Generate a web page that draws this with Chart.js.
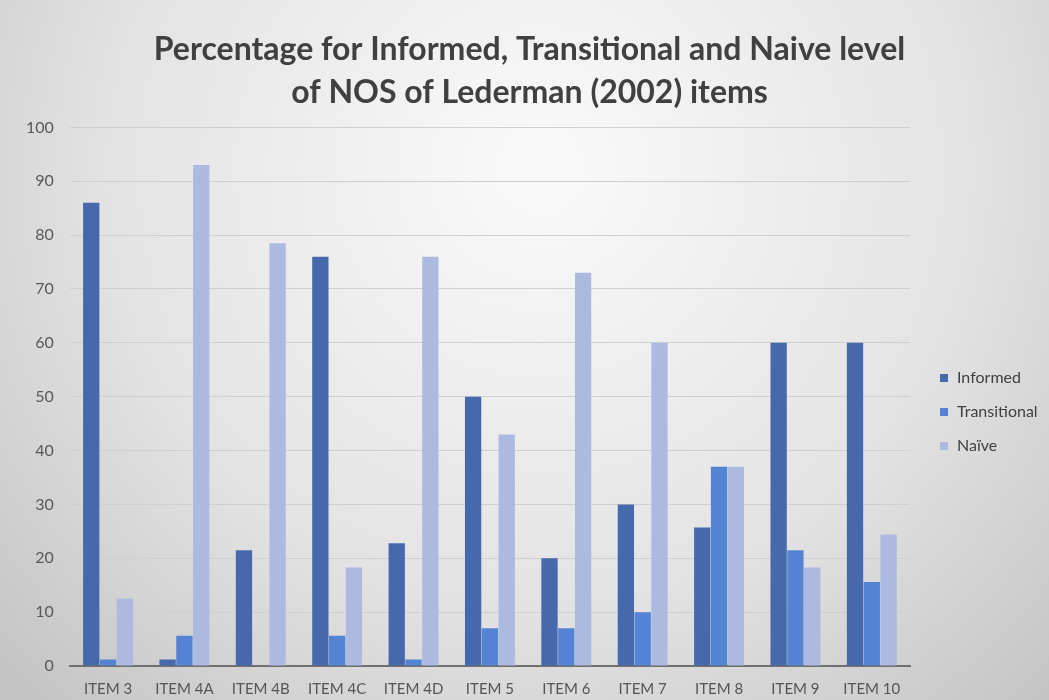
<!DOCTYPE html>
<html>
<head>
<meta charset="utf-8">
<script src="https://cdn.jsdelivr.net/npm/chart.js@4.4.1/dist/chart.umd.min.js"></script>
<style>
  html, body { margin: 0; padding: 0; background: #ffffff; }
  #wrap { width: 1049px; height: 700px; }
</style>
</head>
<body>
<div id="wrap"><canvas id="nosChart" width="1049" height="700"></canvas></div>
<script>
// data (percent)
var items = ["ITEM 3", "ITEM 4A", "ITEM 4B", "ITEM 4C", "ITEM 4D", "ITEM 5", "ITEM 6", "ITEM 7", "ITEM 8", "ITEM 9", "ITEM 10"];
var informed     = [86, 1.2, 21.5, 76, 22.8, 50, 20, 30, 25.7, 60, 60];
var transitional = [1.2, 5.6, 0, 5.6, 1.2, 7, 7, 10, 37, 21.5, 15.6];
var naive        = [12.5, 93, 78.5, 18.3, 76, 43, 73, 60, 37, 18.3, 24.4];
var seriesNames  = ["Informed", "Transitional", "Naïve"];

// grey slide-like background behind everything
var bgPlugin = {
    id: 'bgGradient',
    beforeDraw: function(chart) {
        var ctx = chart.ctx;
        var g = ctx.createRadialGradient(540, 170, 40, 540, 170, 820);
        g.addColorStop(0, '#f8f8f8');
        g.addColorStop(0.5, '#e3e3e3');
        g.addColorStop(1, '#bbbbbb');
        ctx.save();
        ctx.fillStyle = g;
        ctx.fillRect(0, 0, chart.width, chart.height);
        ctx.restore();
    }
};

// legend drawn beside the plot, from the datasets themselves
var sideLegend = {
    id: 'sideLegend',
    afterDraw: function(chart) {
        var ctx = chart.ctx;
        var x = chart.chartArea.right + 30;
        var y = 378;
        ctx.save();
        ctx.font = '16px Lato';
        ctx.textBaseline = 'middle';
        chart.data.datasets.forEach(function(ds, i) {
            ctx.fillStyle = ds.backgroundColor;
            ctx.fillRect(x, y + i * 34 - 4, 8, 8);
            ctx.fillStyle = '#404040';
            ctx.fillText(ds.label, x + 17, y + i * 34);
        });
        ctx.restore();
    }
};

var ctx = document.getElementById('nosChart').getContext('2d');
var myChart = new Chart(ctx, {
    type: 'bar',
    data: {
        labels: items,
        datasets: [
            { label: seriesNames[0], data: informed, backgroundColor: '#4669ad' },
            { label: seriesNames[1], data: transitional, backgroundColor: '#5583d3' },
            { label: seriesNames[2], data: naive, backgroundColor: '#abbade' }
        ]
    },
    options: {
        responsive: false,
        animation: false,
        layout: { padding: { left: 10, right: 0, top: 0, bottom: -12 } },
        datasets: {
            bar: { categoryPercentage: 0.66, barPercentage: 0.97 }
        },
        plugins: {
            title: {
                display: true,
                text: ['Percentage for Informed, Transitional and Naive level', 'of NOS of Lederman (2002) items'],
                color: '#404040',
                font: { family: 'Lato', size: 32, weight: 'bold', lineHeight: 1.35 },
                padding: { top: 28, bottom: 13 }
            },
            legend: { display: false },
            tooltip: { enabled: false }
        },
        scales: {
            x: {
                grid: { display: false, drawTicks: false },
                border: { display: true, color: '#6f6f6f', width: 2 },
                ticks: {
                    color: '#555555',
                    font: { family: 'Lato', size: 15 },
                    padding: 14,
                    maxRotation: 0
                }
            },
            y: {
                min: 0,
                max: 100,
                grid: { color: '#cfcfcf', lineWidth: 1, drawTicks: false },
                border: { display: false },
                ticks: {
                    stepSize: 10,
                    color: '#595959',
                    font: { family: 'Lato', size: 16 },
                    padding: 16
                }
            },
            // empty right-hand axis that reserves the legend's room
            legendRoom: {
                type: 'linear',
                position: 'right',
                grid: { display: false, drawTicks: false },
                border: { display: false },
                ticks: { display: false },
                afterFit: function(scale) { scale.width = 139; }
            }
        }
    },
    plugins: [bgPlugin, sideLegend]
});
</script>
</body>
</html>
